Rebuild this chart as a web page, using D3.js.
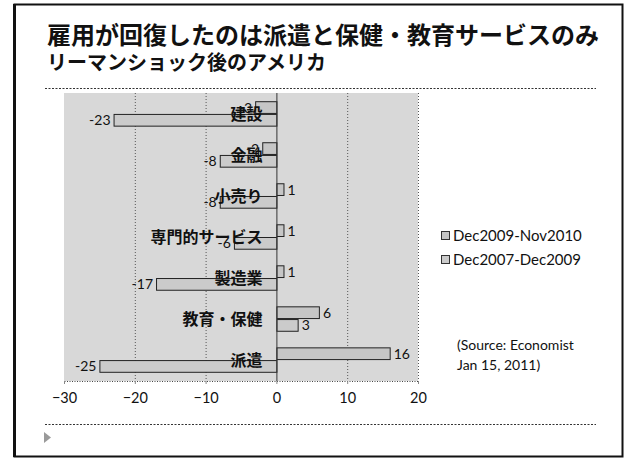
<!DOCTYPE html>
<html>
<head>
<meta charset="utf-8">
<script src="https://cdn.jsdelivr.net/npm/d3@7"></script>
<style>
  html, body { margin: 0; padding: 0; background: #fff; }
  svg { display: block; }
</style>
</head>
<body>
<svg id="chart" width="626" height="459"></svg>
<script>
// Employment change by sector in the US after the Lehman shock
const categories = ["建設", "金融", "小売り", "専門的サービス", "製造業", "教育・保健", "派遣"];
const recovery   = [-3, -2, 1, 1, 1, 6, 16];          // Dec2009-Nov2010
const recession  = [-23, -8, -8, -6, -17, 3, -25];    // Dec2007-Dec2009
const seriesNames = ["Dec2009-Nov2010", "Dec2007-Dec2009"];
const xTicks = [-30, -20, -10, 0, 10, 20];

const title = "雇用が回復したのは派遣と保健・教育サービスのみ";
const subtitle = "リーマンショック後のアメリカ";
const sourceLines = ["(Source: Economist", "Jan 15, 2011)"];

const svg = d3.select("#chart");
const jp = "'Noto Sans CJK JP', 'Noto Sans CJK SC', sans-serif";
const latin = "Lato, 'Open Sans', sans-serif";

// slide frame
svg.append("rect")
  .attr("x", 14.5).attr("y", 4.5).attr("width", 608).attr("height", 452)
  .attr("fill", "none").attr("stroke", "#111").attr("stroke-width", 2);
svg.append("line")
  .attr("x1", 14.5).attr("x2", 14.5).attr("y1", 4).attr("y2", 457)
  .attr("stroke", "#111").attr("stroke-width", 3);

// headings
svg.append("text").text(title)
  .attr("x", 47).attr("y", 44)
  .attr("font-family", jp).attr("font-weight", 700).attr("font-size", 24)
  .attr("fill", "#111");
svg.append("text").text(subtitle)
  .attr("x", 47).attr("y", 70)
  .attr("font-family", jp).attr("font-weight", 700).attr("font-size", 20)
  .attr("fill", "#111");

// dashed separators
[88, 424].forEach(y => {
  svg.append("line")
    .attr("x1", 45).attr("x2", 596).attr("y1", y + 0.5).attr("y2", y + 0.5)
    .attr("stroke", "#333").attr("stroke-width", 1.2)
    .attr("stroke-dasharray", "2,1.5");
});
// bullet marker
svg.append("path")
  .attr("d", "M44,432 L51,437.5 L44,443 Z")
  .attr("fill", "#9a9a9a");

// plot area
const plot = { left: 64, right: 418, top: 93, bottom: 381 };
const x = d3.scaleLinear().domain([-30, 20]).range([plot.left, plot.right]);
const y = d3.scaleBand().domain(categories).range([plot.top, plot.bottom])
  .paddingInner(0.38).paddingOuter(0.2);
const sub = d3.scaleBand().domain([0, 1]).range([0, y.bandwidth()]);

svg.append("rect")
  .attr("x", plot.left).attr("y", plot.top)
  .attr("width", plot.right - plot.left).attr("height", plot.bottom - plot.top)
  .attr("fill", "#d8d8d8");

// vertical gridlines
const grid = svg.append("g");
grid.selectAll("line").data(xTicks.filter(t => t !== 0 && t !== -30)).join("line")
  .attr("x1", d => x(d) + 0.5).attr("x2", d => x(d) + 0.5)
  .attr("y1", plot.top).attr("y2", plot.bottom)
  .attr("stroke", "#555").attr("stroke-width", 1)
  .attr("stroke-dasharray", "1,2");

// bottom axis
const axis = svg.append("g")
  .attr("transform", `translate(0,${plot.bottom})`)
  .call(d3.axisBottom(x).tickValues(xTicks).tickSize(3).tickPadding(9)
    .tickFormat(d3.format("d")));
axis.select(".domain")
  .attr("stroke", "#444").attr("stroke-dasharray", "1,1.5");
axis.selectAll(".tick line").attr("stroke", "#888");
axis.selectAll(".tick text")
  .attr("font-family", latin).attr("font-size", 14.5).attr("fill", "#111");

// bars with value labels
const rows = categories.map((c, i) => ({ c, vals: [recovery[i], recession[i]] }));
const barFill = ["#c6c6c6", "#cbcbcb"];
const barG = svg.append("g");
rows.forEach(r => {
  r.vals.forEach((v, k) => {
    const y0 = y(r.c) + sub(k);
    barG.append("rect")
      .attr("x", Math.min(x(0), x(v)) + 0.5)
      .attr("y", y0 + 0.5)
      .attr("width", Math.abs(x(v) - x(0)))
      .attr("height", sub.bandwidth() - 1)
      .attr("fill", barFill[k])
      .attr("stroke", "#222").attr("stroke-width", 1);
    barG.append("text")
      .attr("x", v < 0 ? x(v) - 3 : x(v) + 4)
      .attr("y", y0 + sub.bandwidth() / 2)
      .attr("dy", "0.36em")
      .attr("text-anchor", v < 0 ? "end" : "start")
      .attr("font-family", latin).attr("font-size", 14).attr("fill", "#111")
      .text(v);
  });
});

// zero line
svg.append("line")
  .attr("x1", x(0) + 0.5).attr("x2", x(0) + 0.5)
  .attr("y1", plot.top).attr("y2", plot.bottom)
  .attr("stroke", "#333").attr("stroke-width", 1);

// category labels sit next to the zero line, over the bars
svg.append("g").selectAll("text").data(categories).join("text")
  .attr("x", x(0) - 14)
  .attr("y", d => y(d) + y.bandwidth() / 2)
  .attr("dy", "0.36em")
  .attr("text-anchor", "end")
  .attr("font-family", jp).attr("font-weight", 700).attr("font-size", 16)
  .attr("fill", "#111")
  .text(d => d);

// legend
const legend = svg.append("g").attr("transform", "translate(441,236)");
seriesNames.forEach((name, k) => {
  const g = legend.append("g").attr("transform", `translate(0,${k * 24})`);
  g.append("rect")
    .attr("x", 0.5).attr("y", -4.5).attr("width", 8).attr("height", 8)
    .attr("fill", barFill[k]).attr("stroke", "#333");
  g.append("text")
    .attr("x", 12).attr("y", 0).attr("dy", "0.36em")
    .attr("font-family", latin).attr("font-size", 15).attr("fill", "#111")
    .text(name);
});

// source note
svg.append("g").selectAll("text").data(sourceLines).join("text")
  .attr("x", 457)
  .attr("y", (d, i) => 350 + i * 20)
  .attr("font-family", latin).attr("font-size", 14).attr("fill", "#111")
  .text(d => d);
</script>
</body>
</html>
